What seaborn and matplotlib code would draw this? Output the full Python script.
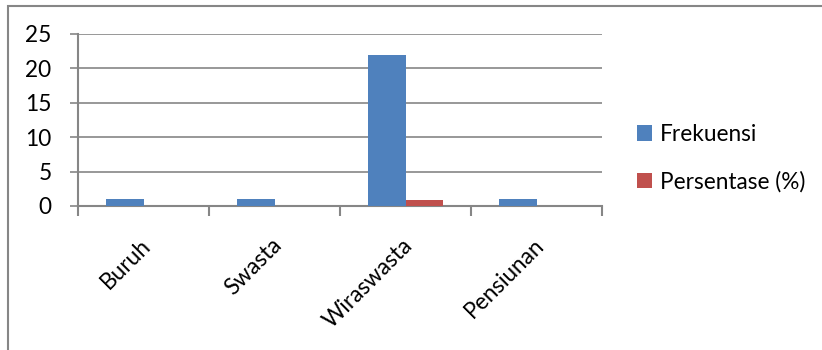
import matplotlib
matplotlib.use("Agg")
import matplotlib.pyplot as plt
import matplotlib.transforms as mtransforms
import seaborn as sns
import pandas as pd
from matplotlib.patches import Rectangle

categories = ["Buruh", "Swasta", "Wiraswasta", "Pensiunan"]
frekuensi = [1, 1, 22, 1]
persentase = [0.04, 0.04, 0.88, 0.04]
series_names = ["Frekuensi", "Persentase (%)"]
y_ticks = [0, 5, 10, 15, 20, 25]

df = pd.DataFrame({
    "Kategori": categories * 2,
    "Seri": [series_names[0]] * 4 + [series_names[1]] * 4,
    "Nilai": frekuensi + persentase,
})

sns.set_theme(style="white")
plt.rcParams["font.family"] = ["Lato", "DejaVu Sans"]
plt.rcParams["text.color"] = "black"
plt.rcParams["xtick.color"] = "black"
plt.rcParams["ytick.color"] = "black"

FS = 16.3
fig = plt.figure(figsize=(8.22, 3.5), dpi=100)
ax = fig.add_axes([78/822, 1-206/350, (602-78)/822, (206-34)/350])

grey = "#868686"
sns.barplot(data=df, x="Kategori", y="Nilai", hue="Seri", order=categories,
            hue_order=series_names, palette=["#4F81BD", "#C0504D"],
            width=0.58, saturation=1, ax=ax, legend=True, zorder=3,
            linewidth=0)

ax.set_xlim(-0.5, 3.5)
ax.set_ylim(0, 25)
ax.set_yticks(y_ticks)
ax.set_yticklabels([str(v) for v in y_ticks], fontsize=FS)
ax.yaxis.grid(True, color=grey, linewidth=1.2, zorder=0)
ax.set_axisbelow(True)
ax.set_xlabel("")
ax.set_ylabel("")

for s in ["top", "right"]:
    ax.spines[s].set_visible(False)
for s in ["left", "bottom"]:
    ax.spines[s].set_color(grey)
    ax.spines[s].set_linewidth(1.5)

ax.tick_params(axis="y", which="major", direction="out", length=6, width=1.2,
               color=grey, labelcolor="black", left=True, pad=13)
ax.set_xticks([-0.5, 0.5, 1.5, 2.5, 3.5], minor=True)
ax.tick_params(axis="x", which="minor", direction="out", length=7, width=1.5,
               color=grey, bottom=True)
ax.tick_params(axis="x", which="major", length=0, pad=26, labelcolor="black")
ax.set_xticks(range(len(categories)))
ax.set_xticklabels(categories, rotation=45, ha="right", va="center",
                   rotation_mode="anchor", fontsize=FS)
shift = mtransforms.ScaledTranslation(4/100, 0, fig.dpi_scale_trans)
for lbl in ax.get_xticklabels():
    lbl.set_transform(lbl.get_transform() + shift)

leg = ax.get_legend()
handles = leg.legend_handles
leg.remove()
fig.legend(handles, series_names, loc="center left",
           bbox_to_anchor=(637/822, 1-158/350), frameon=False,
           fontsize=FS, handlelength=0.68, handleheight=0.68,
           handletextpad=0.35, labelspacing=1.15, borderpad=0, borderaxespad=0)

fig.patches.append(Rectangle((8/822, -0.1), 1.2, 1-6/350+0.1,
                             transform=fig.transFigure, fill=False,
                             edgecolor=grey, linewidth=1.5))

fig.savefig("out.png", dpi=100)
